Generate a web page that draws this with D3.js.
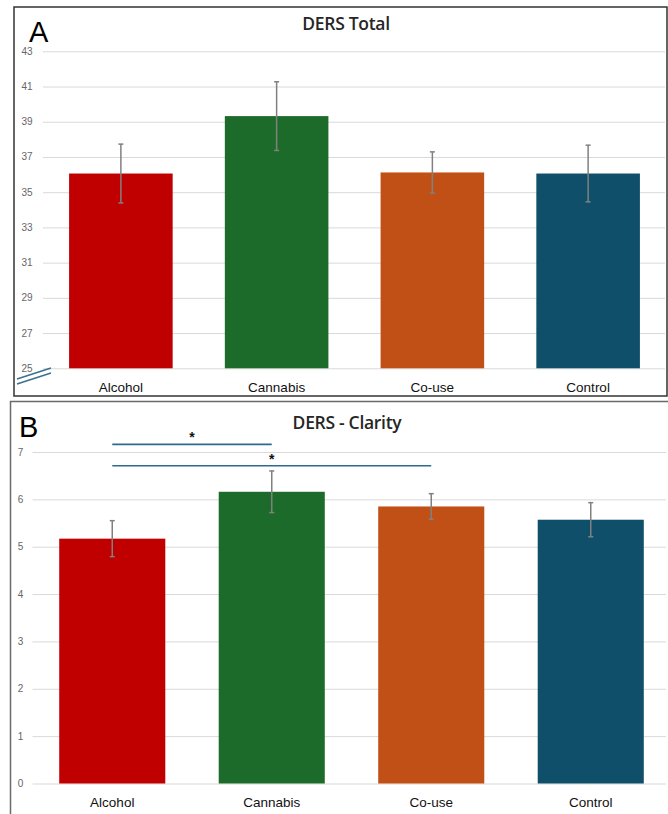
<!DOCTYPE html>
<html>
<head>
<meta charset="utf-8">
<style>
  body { margin: 0; background: #fff; }
  svg { display: block; }
  text { font-family: "Liberation Sans", Arial, sans-serif; }
  .grid line { stroke: #d9d9d9; stroke-width: 1; }
  .tick-label { fill: #666; font-size: 10px; }
  .cat-label { fill: #111; font-size: 13.5px; }
  .title { fill: #262626; font-size: 17.5px; font-family: "Open Sans", sans-serif; font-weight: 600; letter-spacing: -0.3px; }
  .panel-letter { fill: #000; font-size: 29px; }
  .err { stroke: #808080; stroke-width: 1.5; }
</style>
</head>
<body>
<script src="https://d3js.org/d3.v7.min.js"></script>
<script>
// data
var groups = ["Alcohol", "Cannabis", "Co-use", "Control"];
var colors = ["#c00000", "#1d6b2a", "#c05015", "#0f4f6a"];

var totalMeans = [36.06, 39.32, 36.12, 36.06];
var totalErr = [1.67, 1.95, 1.17, 1.61];
var totalTicks = [25, 27, 29, 31, 33, 35, 37, 39, 41, 43];

var clarityMeans = [5.17, 6.16, 5.85, 5.57];
var clarityErr = [0.38, 0.44, 0.27, 0.36];
var clarityTicks = [0, 1, 2, 3, 4, 5, 6, 7];

// significance brackets for panel B: [from, to, height]
var sigPairs = [["Alcohol", "Cannabis", 7.16], ["Alcohol", "Co-use", 6.71]];

var svg = d3.select("body").append("svg")
    .attr("width", 668)
    .attr("height", 814);

function drawPanel(opt) {
  var g = svg.append("g");

  // frame
  g.append("rect")
      .attr("x", opt.box[0]).attr("y", opt.box[1])
      .attr("width", opt.box[2]).attr("height", opt.box[3])
      .attr("fill", "none")
      .attr("stroke", opt.frameColor)
      .attr("stroke-width", 1.5);

  var x = d3.scaleBand()
      .domain(groups)
      .range(opt.xRange)
      .paddingInner(0.335)
      .paddingOuter(0.1675);

  var y = d3.scaleLinear()
      .domain(opt.domain)
      .range(opt.yRange);

  var data = groups.map(function(k, i) {
    return {name: k, mean: opt.means[i], err: opt.errs[i], color: colors[i]};
  });

  // gridlines
  g.append("g").attr("class", "grid")
    .selectAll("line")
    .data(opt.ticks)
    .enter().append("line")
      .attr("x1", opt.xRange[0])
      .attr("x2", opt.gridEnd)
      .attr("y1", function(d) { return y(d) + 0.5; })
      .attr("y2", function(d) { return y(d) + 0.5; });

  g.selectAll(".tick-label")
    .data(opt.ticks)
    .enter().append("text")
      .attr("class", "tick-label")
      .attr("x", opt.tickX)
      .attr("y", function(d) { return y(d); })
      .attr("dy", "0.35em")
      .attr("text-anchor", "middle")
      .text(function(d) { return d; });

  // bars
  g.selectAll(".bar")
    .data(data)
    .enter().append("rect")
      .attr("class", "bar")
      .attr("x", function(d) { return x(d.name); })
      .attr("width", x.bandwidth())
      .attr("y", function(d) { return y(d.mean); })
      .attr("height", function(d) { return y(opt.domain[0]) - y(d.mean); })
      .attr("fill", function(d) { return d.color; });

  // error bars
  var eb = g.selectAll(".errbar")
    .data(data)
    .enter().append("g")
      .attr("class", "errbar")
      .attr("transform", function(d) { return "translate(" + (x(d.name) + x.bandwidth() / 2) + ",0)"; });

  eb.append("line").attr("class", "err")
      .attr("y1", function(d) { return y(d.mean - d.err); })
      .attr("y2", function(d) { return y(d.mean + d.err); });
  eb.append("line").attr("class", "err")
      .attr("x1", -2.5).attr("x2", 2.5)
      .attr("y1", function(d) { return y(d.mean + d.err); })
      .attr("y2", function(d) { return y(d.mean + d.err); });
  eb.append("line").attr("class", "err")
      .attr("x1", -2.5).attr("x2", 2.5)
      .attr("y1", function(d) { return y(d.mean - d.err); })
      .attr("y2", function(d) { return y(d.mean - d.err); });

  // category labels
  g.selectAll(".cat-label")
    .data(groups)
    .enter().append("text")
      .attr("class", "cat-label")
      .attr("x", function(d) { return x(d) + x.bandwidth() / 2; })
      .attr("y", opt.catY)
      .attr("dy", "0.35em")
      .attr("text-anchor", "middle")
      .text(function(d) { return d; });

  g.append("text")
      .attr("class", "title")
      .attr("x", opt.titleX)
      .attr("y", opt.titleY)
      .attr("dy", "0.35em")
      .attr("text-anchor", "middle")
      .text(opt.title);

  g.append("text")
      .attr("class", "panel-letter")
      .attr("x", opt.letterPos[0])
      .attr("y", opt.letterPos[1])
      .text(opt.letter);

  return {g: g, x: x, y: y};
}

var A = drawPanel({
  box: [14, 7, 653, 389],
  frameColor: "#333",
  xRange: [43, 666],
  gridEnd: 665,
  domain: [25, 43],
  yRange: [368.3, 51.3],
  ticks: totalTicks,
  tickX: 27,
  means: totalMeans,
  errs: totalErr,
  catY: 387,
  title: "DERS Total",
  titleX: 346,
  titleY: 23.5,
  letter: "A",
  letterPos: [29, 41.5]
});

// axis break marks
A.g.selectAll(".brk")
  .data([0, 5])
  .enter().append("line")
    .attr("x1", 17).attr("x2", 51)
    .attr("y1", function(d) { return 379 + d; })
    .attr("y2", function(d) { return 368 + d; })
    .attr("stroke", "#3d6f8f")
    .attr("stroke-width", 1.5);

var B = drawPanel({
  box: [10.5, 401.5, 660, 420],
  frameColor: "#6a6a6a",
  xRange: [32.5, 670.5],
  gridEnd: 666,
  domain: [0, 7],
  yRange: [783.5, 452],
  ticks: clarityTicks,
  tickX: 20.5,
  means: clarityMeans,
  errs: clarityErr,
  catY: 802,
  title: "DERS - Clarity",
  titleX: 347,
  titleY: 423,
  letter: "B",
  letterPos: [19, 436.5]
});

// significance lines
var sig = B.g.selectAll(".sig")
  .data(sigPairs)
  .enter().append("g")
    .attr("class", "sig");

function mid(name) { return B.x(name) + B.x.bandwidth() / 2; }

sig.append("line")
    .attr("x1", function(d) { return mid(d[0]); })
    .attr("x2", function(d) { return mid(d[1]); })
    .attr("y1", function(d) { return B.y(d[2]); })
    .attr("y2", function(d) { return B.y(d[2]); })
    .attr("stroke", "#2f6b8e")
    .attr("stroke-width", 1.6);

sig.append("text")
    .attr("x", function(d) { return (mid(d[0]) + mid(d[1])) / 2; })
    .attr("y", function(d) { return B.y(d[2]) - 2; })
    .attr("text-anchor", "middle")
    .attr("font-size", 14)
    .attr("font-weight", "bold")
    .attr("fill", "#111")
    .text("*");
</script>
</body>
</html>
